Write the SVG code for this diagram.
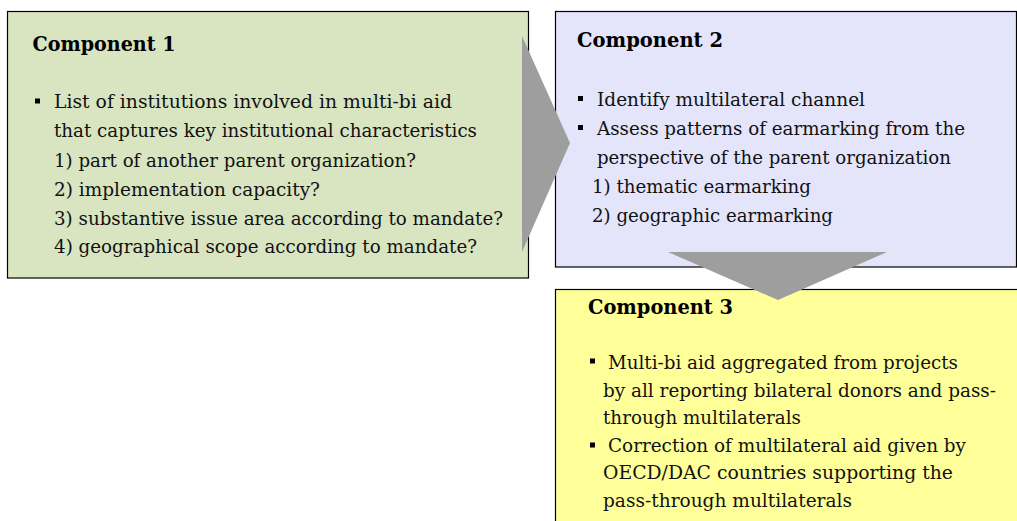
<svg xmlns="http://www.w3.org/2000/svg" width="1017" height="521" viewBox="0 0 1017 521">
<style>
.box{stroke:#000;stroke-width:1.2}
.t{font-family:"DejaVu Serif","Liberation Serif",serif;font-size:18.7px;fill:#111}
.h{font-family:"DejaVu Serif","Liberation Serif",serif;font-size:20.5px;font-weight:bold;fill:#000}
.arrow{fill:#9e9e9e;stroke:none}
.bul{fill:#000}
</style>
<rect width="1017" height="521" fill="#fff"/>
<g id="component1">
<rect class="box" x="7.5" y="11.5" width="521" height="266.5" fill="#d9e4c1"/>
<text class="h" x="32.5" y="50.5" textLength="143" lengthAdjust="spacingAndGlyphs">Component 1</text>
<rect class="bul" x="35" y="98.5" width="5" height="5"/>
<text class="t" x="54" y="108" textLength="398" lengthAdjust="spacingAndGlyphs">List of institutions involved in multi-bi aid</text>
<text class="t" x="54" y="137" textLength="423" lengthAdjust="spacingAndGlyphs">that captures key institutional characteristics</text>
<text class="t" x="54" y="166.5" textLength="362" lengthAdjust="spacingAndGlyphs">1) part of another parent organization?</text>
<text class="t" x="54" y="195.5" textLength="266" lengthAdjust="spacingAndGlyphs">2) implementation capacity?</text>
<text class="t" x="54" y="224.5" textLength="449" lengthAdjust="spacingAndGlyphs">3) substantive issue area according to mandate?</text>
<text class="t" x="54" y="253" textLength="423" lengthAdjust="spacingAndGlyphs">4) geographical scope according to mandate?</text>
</g>
<g id="component2">
<rect class="box" x="555.5" y="11.5" width="461" height="255.5" fill="#e4e4fa"/>
<text class="h" x="577" y="47" textLength="146" lengthAdjust="spacingAndGlyphs">Component 2</text>
<rect class="bul" x="578" y="96" width="5" height="5"/>
<text class="t" x="597" y="106" textLength="268" lengthAdjust="spacingAndGlyphs">Identify multilateral channel</text>
<rect class="bul" x="578" y="125" width="5" height="5"/>
<text class="t" x="597" y="134.5" textLength="368" lengthAdjust="spacingAndGlyphs">Assess patterns of earmarking from the</text>
<text class="t" x="597" y="163.5" textLength="354" lengthAdjust="spacingAndGlyphs">perspective of the parent organization</text>
<text class="t" x="592" y="193" textLength="219" lengthAdjust="spacingAndGlyphs">1) thematic earmarking</text>
<text class="t" x="592" y="222" textLength="241" lengthAdjust="spacingAndGlyphs">2) geographic earmarking</text>
</g>
<g id="component3">
<rect class="box" x="555.5" y="289.5" width="470" height="240" fill="#ffff99"/>
<text class="h" x="588" y="314" textLength="145" lengthAdjust="spacingAndGlyphs">Component 3</text>
<rect class="bul" x="590" y="358.5" width="5" height="5"/>
<text class="t" x="608" y="369" textLength="350" lengthAdjust="spacingAndGlyphs">Multi-bi aid aggregated from projects</text>
<text class="t" x="603" y="396.5" textLength="393" lengthAdjust="spacingAndGlyphs">by all reporting bilateral donors and pass-</text>
<text class="t" x="603" y="424" textLength="198" lengthAdjust="spacingAndGlyphs">through multilaterals</text>
<rect class="bul" x="590" y="442.5" width="5" height="5"/>
<text class="t" x="608" y="451.5" textLength="358" lengthAdjust="spacingAndGlyphs">Correction of multilateral aid given by</text>
<text class="t" x="603" y="479" textLength="350" lengthAdjust="spacingAndGlyphs">OECD/DAC countries supporting the</text>
<text class="t" x="603" y="506.5" textLength="249" lengthAdjust="spacingAndGlyphs">pass-through multilaterals</text>
</g>
<g id="connectors">
<polygon class="arrow" points="522,36 570,143 522,252"/>
<polygon class="arrow" points="668,252 887,252 778,300"/>
</g>
</svg>
